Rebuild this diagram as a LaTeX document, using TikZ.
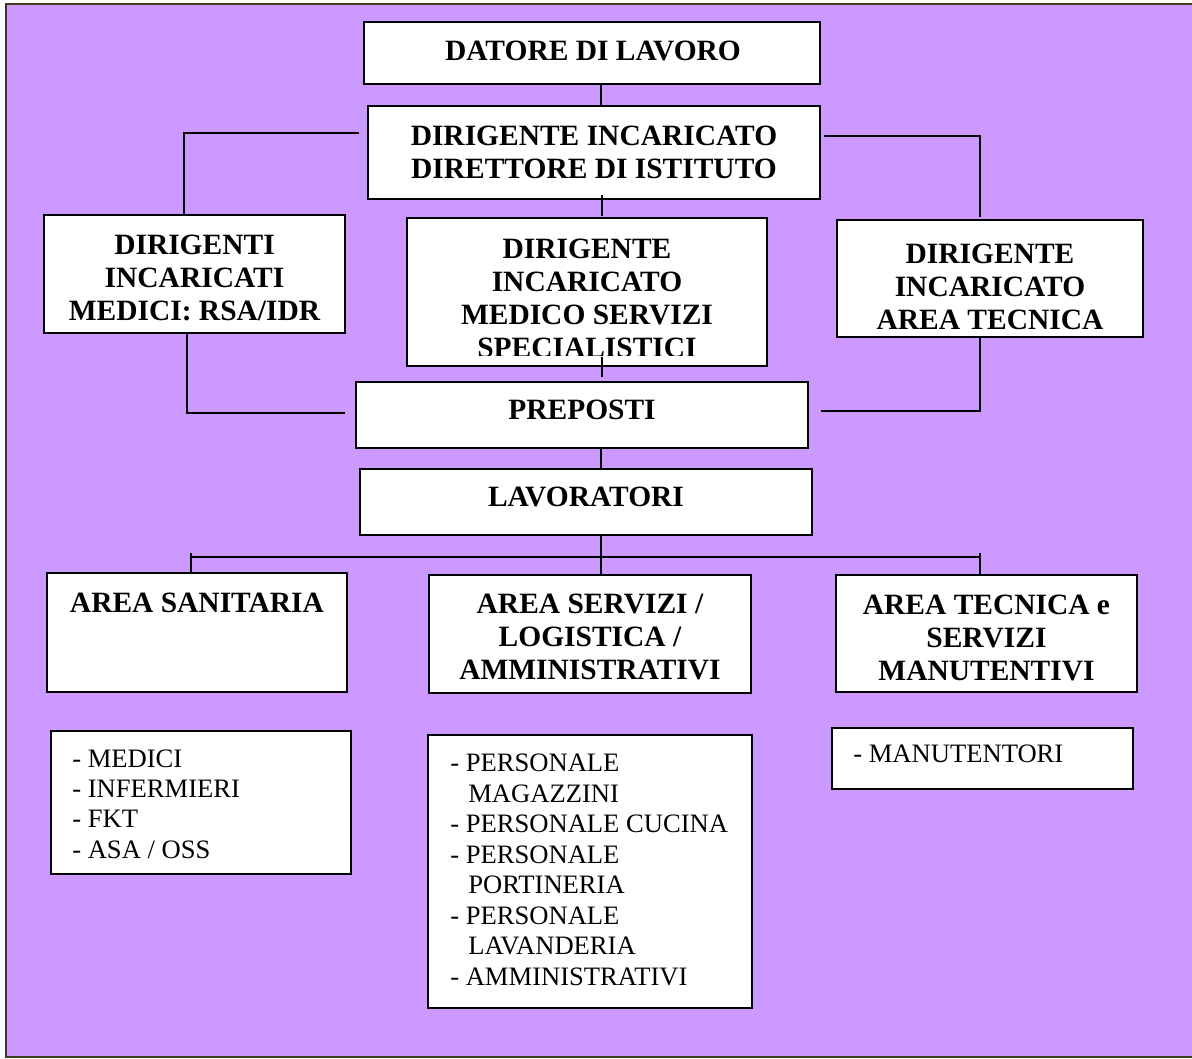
\documentclass[tikz,border=0pt]{standalone}
\usepackage{fontspec}
\setmainfont{Liberation Serif}
\definecolor{lav}{HTML}{CC99FF}
\definecolor{framec}{HTML}{3D3A1E}
\begin{document}
\begin{tikzpicture}[x=0.75pt,y=-0.75pt,
  box/.style={draw=black, line width=1.5pt, fill=white, inner sep=0pt},
  conn/.style={draw=black, line width=1.2pt},
  bt/.style={font=\fontsize{22.1}{24.8}\selectfont\bfseries, align=center, inner sep=0pt},
  lt/.style={font=\fontsize{19.95}{22.7}\selectfont, align=left, anchor=west, inner sep=0pt}]
\useasboundingbox (0,0) rectangle (1192,1059);
\fill[white] (0,0) rectangle (1192,1059);
\fill[lav] (6,4) rectangle (1192,1057);
\draw[framec, line width=1.5pt] (1192,4) -- (6,4) -- (6,1057) -- (1192,1057);

% boxes
\node[box, minimum width=342pt, minimum height=46.5pt] (datore) at (592,53) {};
\node[bt] (datoreT) at (593,51) {DATORE DI LAVORO};

\node[box, minimum width=339pt, minimum height=69.75pt] (dirett) at (594,152.5) {};
\node[bt] (direttT) at (594,152) {DIRIGENTE INCARICATO\\DIRETTORE DI ISTITUTO};

\node[box, minimum width=225.75pt, minimum height=88.5pt] (dirL) at (194.5,274) {};
\node[bt] (dirLT) at (194.5,278) {DIRIGENTI\\INCARICATI\\MEDICI: RSA/IDR};

\node[box, minimum width=270pt, minimum height=111pt] (dirC) at (587,292) {};
\begin{scope}
\clip (407,218) rectangle (767,355);
\node[bt] (dirCT) at (587,298) {DIRIGENTE\\INCARICATO\\MEDICO SERVIZI\\SPECIALISTICI};
\end{scope}

\node[box, minimum width=229.5pt, minimum height=87.75pt] (dirR) at (990,278.5) {};
\node[bt] (dirRT) at (990,287) {DIRIGENTE\\INCARICATO\\AREA TECNICA};

\node[box, minimum width=339pt, minimum height=49.5pt] (preposti) at (582,415) {};
\node[bt] (prepostiT) at (582,410) {PREPOSTI};

\node[box, minimum width=339pt, minimum height=49.5pt] (lavoratori) at (586,502) {};
\node[bt] (lavoratoriT) at (586,497) {LAVORATORI};

\node[box, minimum width=225pt, minimum height=89.25pt] (sanitaria) at (197,632.5) {};
\node[bt] (sanitariaT) at (197,603) {AREA SANITARIA};

\node[box, minimum width=241.5pt, minimum height=88.5pt] (servizi) at (590,634) {};
\node[bt] (serviziT) at (590,637) {AREA SERVIZI /\\LOGISTICA /\\AMMINISTRATIVI};

\node[box, minimum width=225.75pt, minimum height=87.75pt] (tecnica) at (986.5,633.5) {};
\node[bt] (tecnicaT) at (986.5,638) {AREA TECNICA e\\SERVIZI\\MANUTENTIVI};

\node[box, minimum width=225pt, minimum height=107.25pt] (listS) at (201,802.5) {};
\node[lt] (listST) at (72,804) {- MEDICI\\- INFERMIERI\\- FKT\\- ASA / OSS};

\node[box, minimum width=243pt, minimum height=204.75pt] (listV) at (590,871.5) {};
\node[lt, font=\fontsize{19.95}{22.9}\selectfont] (listVT) at (450,870) {- PERSONALE\\\hspace*{13.5pt}MAGAZZINI\\- PERSONALE CUCINA\\- PERSONALE\\\hspace*{13.5pt}PORTINERIA\\- PERSONALE\\\hspace*{13.5pt}LAVANDERIA\\- AMMINISTRATIVI};

\node[box, minimum width=225.75pt, minimum height=45.75pt] (listT) at (982.5,758.5) {};
\node[lt] (listTT) at (853,754) {- MANUTENTORI};

% connectors
\coordinate (mid) at (601,0);
\draw[conn] (datore.south -| mid) -- (dirett.north -| mid);
\coordinate (c1) at (602,195);
\coordinate (c2) at (602,216);
\draw[conn] (c1) -- (c2);
\coordinate (c3) at (602,357);
\coordinate (c4) at (602,377);
\draw[conn] (c3) -- (c4);
\draw[conn] (preposti.south -| mid) -- (lavoratori.north -| mid);
\draw[conn] (lavoratori.south -| mid) -- (servizi.north -| mid);

\coordinate (l1) at (359,133);
\coordinate (l2) at (184,133);
\draw[conn] (l1) -- (l2) -- (dirL.north -| l2);
\coordinate (r1) at (824,136);
\coordinate (r2) at (980,136);
\coordinate (r3) at (980,217);
\draw[conn] (r1) -- (r2) -- (r3);

\coordinate (l3) at (187,413);
\coordinate (l4) at (345,413);
\draw[conn] (dirL.south -| l3) -- (l3) -- (l4);
\coordinate (r4) at (980,411);
\coordinate (r5) at (821,411);
\draw[conn] (dirR.south -| r4) -- (r4) -- (r5);

\coordinate (b1) at (191,557);
\coordinate (b2) at (980,557);
\coordinate (b1t) at (191,553);
\coordinate (b2t) at (980,553);
\draw[conn] (b1) -- (b2);
\draw[conn] (b1t) -- (sanitaria.north -| b1t);
\draw[conn] (b2t) -- (tecnica.north -| b2t);
\end{tikzpicture}
\end{document}
